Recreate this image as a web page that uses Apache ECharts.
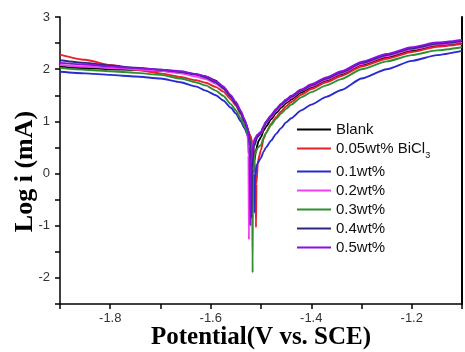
<!DOCTYPE html>
<html>
<head>
<meta charset="utf-8">
<script src="https://cdn.jsdelivr.net/npm/echarts@6/dist/echarts.min.js"></script>
<style>
  html, body { margin: 0; padding: 0; background: #fff; }
  #chart { width: 465px; height: 352px; }
</style>
</head>
<body>
<div id="chart"></div>
<script>
// potentials (V vs. SCE) shared by the cathodic and anodic branches
const cathodicV = [-1.90, -1.85, -1.80, -1.75, -1.70, -1.66, -1.63, -1.61, -1.59, -1.575, -1.56, -1.55, -1.54, -1.533]
const anodicV = [-1.50, -1.495, -1.49, -1.48, -1.47, -1.46, -1.45, -1.44, -1.42, -1.40, -1.37, -1.34, -1.30, -1.25, -1.20, -1.15, -1.10]

const names = ['Blank', '0.05wt% BiCl3', '0.1wt%', '0.2wt%', '0.3wt%', '0.4wt%', '0.5wt%']
const colors = ['#000000', '#e8202a', '#2a2ad0', '#f040f0', '#2f8f2f', '#2a2a80', '#8a10e0']

// log i on the cathodic branch, one array per sample
const blankCath = [2.05, 2.02, 2.00, 1.99, 1.97, 1.94, 1.90, 1.86, 1.78, 1.63, 1.46, 1.33, 1.16, 1.02]
const bi005Cath = [2.28, 2.18, 2.08, 1.99, 1.92, 1.85, 1.79, 1.74, 1.66, 1.57, 1.42, 1.30, 1.13, 0.98]
const bi01Cath = [1.95, 1.92, 1.89, 1.86, 1.82, 1.75, 1.67, 1.59, 1.50, 1.40, 1.26, 1.15, 1.00, 0.87]
const bi02Cath = [2.08, 2.05, 2.02, 2.00, 1.97, 1.92, 1.86, 1.81, 1.72, 1.62, 1.46, 1.33, 1.16, 1.00]
const bi03Cath = [2.02, 1.99, 1.96, 1.93, 1.89, 1.82, 1.75, 1.69, 1.59, 1.49, 1.33, 1.21, 1.05, 0.92]
const bi04Cath = [2.17, 2.12, 2.07, 2.03, 1.99, 1.95, 1.90, 1.84, 1.75, 1.64, 1.47, 1.33, 1.16, 1.00]
const bi05Cath = [2.12, 2.09, 2.05, 2.02, 1.99, 1.96, 1.91, 1.86, 1.77, 1.67, 1.50, 1.37, 1.20, 1.04]

// points around the corrosion potential [V, log i]
const blankDip = [[-1.522, 0.74], [-1.516, 0.50], [-1.513, 0.25], [-1.510, 0.45], [-1.505, 0.62]]
const bi005Dip = [[-1.522, 0.74], [-1.515, 0.52], [-1.511, 0.0], [-1.510, -1.03], [-1.509, -0.2], [-1.506, 0.25]]
const bi01Dip = [[-1.522, 0.62], [-1.516, 0.38], [-1.514, 0.0], [-1.513, -0.75], [-1.512, -0.1], [-1.508, 0.18]]
const bi02Dip = [[-1.527, 0.82], [-1.525, 0.35], [-1.524, -1.27], [-1.523, 0.1], [-1.519, 0.5], [-1.512, 0.68]]
const bi03Dip = [[-1.522, 0.66], [-1.518, 0.32], [-1.5167, -1.9], [-1.516, 0.0], [-1.512, 0.38], [-1.506, 0.5]]
const bi04Dip = [[-1.525, 0.82], [-1.521, 0.48], [-1.519, -0.85], [-1.518, 0.1], [-1.514, 0.52], [-1.507, 0.7]]
const bi05Dip = [[-1.526, 0.86], [-1.523, 0.52], [-1.521, -1.0], [-1.520, 0.15], [-1.516, 0.56], [-1.508, 0.74]]

// log i on the anodic branch
const blankAnod = [0.70, 0.82, 0.90, 1.04, 1.16, 1.26, 1.35, 1.42, 1.55, 1.65, 1.78, 1.90, 2.08, 2.23, 2.35, 2.45, 2.50]
const bi005Anod = [0.45, 0.66, 0.78, 0.95, 1.08, 1.19, 1.29, 1.37, 1.51, 1.62, 1.75, 1.87, 2.05, 2.20, 2.33, 2.43, 2.48]
const bi01Anod = [0.30, 0.42, 0.50, 0.63, 0.76, 0.87, 0.98, 1.06, 1.21, 1.32, 1.47, 1.60, 1.82, 2.00, 2.16, 2.27, 2.35]
const bi02Anod = [0.76, 0.87, 0.96, 1.08, 1.20, 1.30, 1.38, 1.45, 1.58, 1.67, 1.80, 1.92, 2.10, 2.25, 2.38, 2.47, 2.52]
const bi03Anod = [0.55, 0.68, 0.78, 0.93, 1.05, 1.15, 1.24, 1.32, 1.46, 1.56, 1.69, 1.81, 2.00, 2.15, 2.27, 2.36, 2.42]
const bi04Anod = [0.78, 0.89, 0.98, 1.10, 1.22, 1.32, 1.40, 1.47, 1.59, 1.69, 1.82, 1.94, 2.12, 2.27, 2.40, 2.49, 2.54]
const bi05Anod = [0.80, 0.91, 1.00, 1.12, 1.24, 1.34, 1.42, 1.49, 1.61, 1.71, 1.84, 1.96, 2.14, 2.29, 2.42, 2.51, 2.56]

const cathodic = [blankCath, bi005Cath, bi01Cath, bi02Cath, bi03Cath, bi04Cath, bi05Cath]
const dips = [blankDip, bi005Dip, bi01Dip, bi02Dip, bi03Dip, bi04Dip, bi05Dip]
const anodic = [blankAnod, bi005Anod, bi01Anod, bi02Anod, bi03Anod, bi04Anod, bi05Anod]

function buildCurve(i) {
  const pts = cathodicV.map((v, k) => [v, cathodic[i][k]])
  dips[i].forEach(p => pts.push(p))
  const lastV = dips[i][dips[i].length - 1][0]
  anodicV.forEach((v, k) => { if (v > lastV) pts.push([v, anodic[i][k]]) })
  return pts
}

const chart = echarts.init(document.getElementById('chart'))
chart.setOption({
  animation: false,
  grid: { left: 60, right: 3, top: 17, bottom: 48, outerBoundsMode: 'none', containLabel: false },
  legend: {
    orient: 'vertical',
    left: 292,
    top: 117,
    itemWidth: 34,
    itemHeight: 2,
    itemGap: 4,
    icon: 'rect',
    data: names,
    formatter: n => n === '0.05wt% BiCl3' ? '{t|0.05wt% BiCl}{s|3}' : '{t|' + n + '}',
    textStyle: {
      rich: {
        t: { fontFamily: 'Liberation Sans', fontSize: 15, color: '#111', lineHeight: 15 },
        s: { fontFamily: 'Liberation Sans', fontSize: 9, color: '#111', verticalAlign: 'bottom', padding: [14, 0, 0, 0] }
      }
    }
  },
  xAxis: {
    type: 'value',
    min: -1.9,
    max: -1.1,
    interval: 0.1,
    name: 'Potential(V vs. SCE)',
    nameLocation: 'middle',
    nameGap: 21,
    nameMoveOverlap: false,
    nameTextStyle: { fontFamily: 'Liberation Serif', fontWeight: 'bold', fontSize: 25, color: '#000' },
    axisLine: { onZero: false, lineStyle: { color: '#000', width: 1.5 } },
    axisTick: { inside: false, length: 5, lineStyle: { color: '#000', width: 1.5 } },
    axisLabel: {
      fontFamily: 'Liberation Sans', fontSize: 13, color: '#333', margin: 8,
      formatter: v => Math.round(v * 10) % 2 === 0 ? v.toFixed(1) : ''
    },
    splitLine: { show: false }
  },
  yAxis: [{
    type: 'value',
    min: -2.5,
    max: 3,
    interval: 0.5,
    name: 'Log i (mA)',
    nameLocation: 'middle',
    nameGap: 22,
    nameMoveOverlap: false,
    nameTextStyle: {
      fontFamily: 'Liberation Serif', fontWeight: 'bold', fontSize: 26, color: '#000',
      padding: [0, 22, 0, 0]
    },
    axisLine: { show: true, onZero: false, lineStyle: { color: '#000', width: 1.5 } },
    axisTick: { show: true, length: 5, lineStyle: { color: '#000', width: 1.5 } },
    axisLabel: {
      fontFamily: 'Liberation Sans', fontSize: 13, color: '#333', margin: 10,
      formatter: v => Number.isInteger(v) ? String(v) : ''
    },
    splitLine: { show: false }
  }, {
    type: 'value',
    position: 'right',
    min: -2.5,
    max: 3,
    axisLine: { show: true, onZero: false, lineStyle: { color: '#000', width: 2 } },
    axisTick: { show: false },
    axisLabel: { show: false },
    splitLine: { show: false }
  }],
  series: names.map((n, i) => ({
    name: n,
    type: 'line',
    data: buildCurve(i),
    showSymbol: false,
    symbol: 'none',
    smooth: 0.2,
    smoothMonotone: 'x',
    color: colors[i],
    lineStyle: { width: 1.9, color: colors[i] }
  }))
})
</script>
</body>
</html>
